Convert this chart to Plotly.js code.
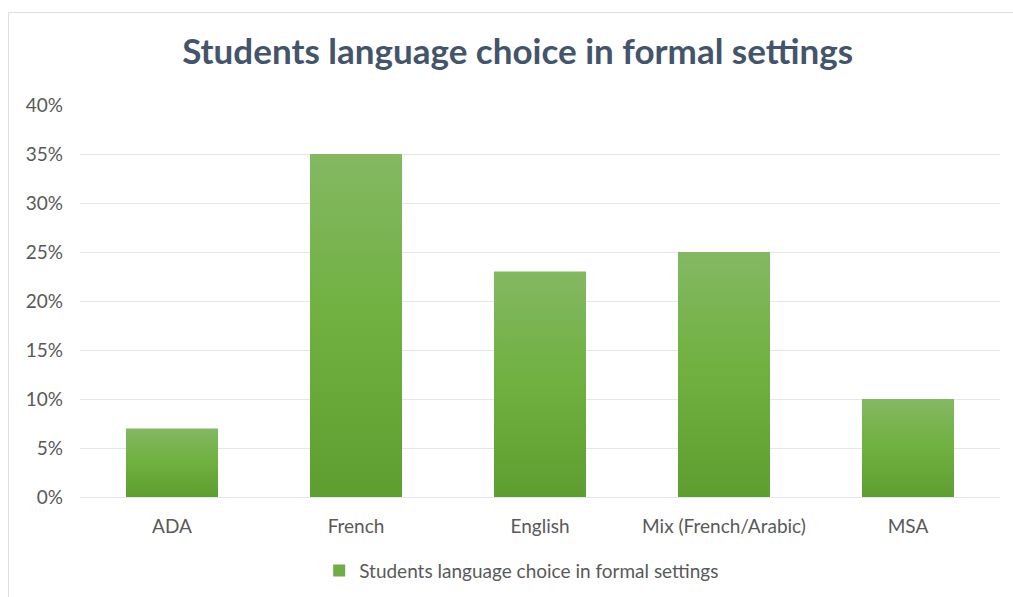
<!DOCTYPE html>
<html>
<head>
<meta charset="utf-8">
<script src="https://cdn.plot.ly/plotly-3.0.1.min.js"></script>
<style>
html,body{margin:0;padding:0;background:#fff;}
#wrap{position:relative;width:1013px;height:597px;overflow:hidden;}
#chart{position:absolute;left:0;top:0;width:1013px;height:597px;}
#frame{position:absolute;left:8px;top:12px;width:1020px;height:600px;border:1px solid #dcdfe4;pointer-events:none;}
</style>
</head>
<body>
<div id="wrap"><div id="chart"></div><div id="frame"></div></div>
<script>
const categories = ["ADA", "French", "English", "Mix (French/Arabic)", "MSA"];
const values = [0.07, 0.35, 0.23, 0.25, 0.10];
const seriesName = "Students language choice in formal settings";
const yTickVals = [0, 0.05, 0.10, 0.15, 0.20, 0.25, 0.30, 0.35, 0.40];

const font = "Lato, 'Open Sans', sans-serif";
const trace = {
  type: "bar",
  x: categories,
  y: values,
  name: seriesName,
  showlegend: true,
  marker: {color: "#70ad47", line: {width: 0}},
  hoverinfo: "x+y"
};
const layout = {
  width: 1013, height: 597,
  margin: {l: 80, r: 13, t: 105, b: 100, autoexpand: false},
  paper_bgcolor: "rgba(0,0,0,0)",
  plot_bgcolor: "rgba(0,0,0,0)",
  bargap: 0.5,
  title: {
    text: "<b>Students language choice in formal settings</b>",
    font: {family: font, size: 35, color: "#44546a"},
    x: 0.511, xanchor: "center", y: 0.913, yanchor: "middle", xref: "container", yref: "container"
  },
  xaxis: {
    showgrid: false, showline: false, zeroline: false, ticks: "",
    tickfont: {family: font, size: 19, color: "#595959"},
    ticklabelstandoff: 16
  },
  yaxis: {
    range: [0, 0.4], tickvals: yTickVals, tickformat: ".0%",
    showgrid: true, gridcolor: "#e3e6ea", gridwidth: 1,
    zeroline: true, zerolinecolor: "#e3e6ea", zerolinewidth: 1,
    showline: false, ticks: "",
    tickfont: {family: font, size: 19, color: "#595959"},
    ticklabelstandoff: 16
  },
  legend: {
    orientation: "h", x: 0.515, xanchor: "center", xref: "container",
    y: 0.044, yanchor: "middle", yref: "container",
    font: {family: font, size: 19, color: "#595959"},
    itemwidth: 30
  },
  showlegend: true
};
Plotly.newPlot("chart", [trace], layout, {displayModeBar: false, staticPlot: true}).then(function(gd){
  const svg = gd.querySelector("svg.main-svg");
  const ns = "http://www.w3.org/2000/svg";
  let defs = svg.querySelector("defs");
  if (!defs) { defs = document.createElementNS(ns, "defs"); svg.insertBefore(defs, svg.firstChild); }
  const g = document.createElementNS(ns, "linearGradient");
  g.setAttribute("id", "barGrad");
  g.setAttribute("x1", "0"); g.setAttribute("y1", "0");
  g.setAttribute("x2", "0"); g.setAttribute("y2", "1");
  [["0", "#84b862"], ["0.5", "#6fb03f"], ["1", "#5e9e31"]].forEach(function(s){
    const st = document.createElementNS(ns, "stop");
    st.setAttribute("offset", s[0]); st.setAttribute("stop-color", s[1]);
    g.appendChild(st);
  });
  defs.appendChild(g);
  gd.querySelectorAll(".barlayer .point path").forEach(function(p){
    p.style.fill = "url(#barGrad)";
  });
});
</script>
</body>
</html>
